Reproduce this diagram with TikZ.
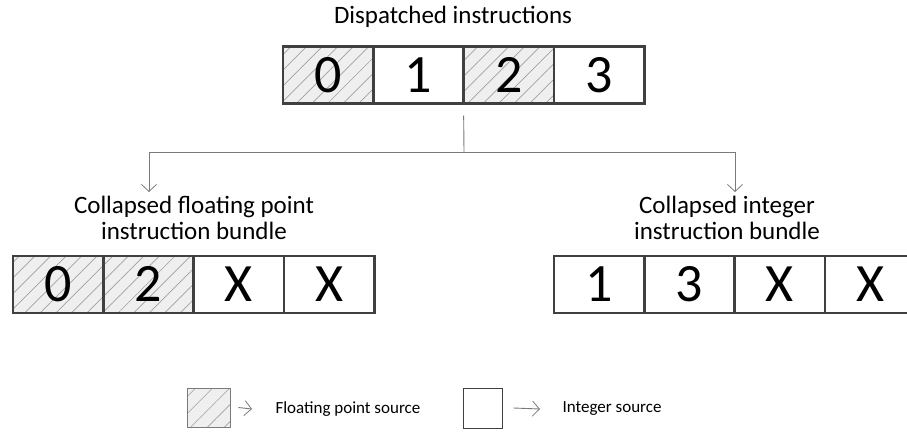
\documentclass[tikz,border=0pt]{standalone}
\usepackage{fontspec}
\setmainfont{Carlito}
\usetikzlibrary{positioning,arrows.meta,patterns.meta}
\definecolor{edgegray}{HTML}{404040}
\definecolor{linkgray}{HTML}{7A7A7A}
\definecolor{hatchbg}{HTML}{EFEFEF}
\definecolor{hatchline}{HTML}{A0A0A0}
\tikzset{
	cell/.style={draw=edgegray,line width=2.6pt,minimum width=90.3pt,minimum height=57pt,
		inner sep=0pt,outer sep=0pt,text height=34pt,text depth=0pt,
		font=\fontsize{54}{54}\selectfont},
	intcell/.style={cell,fill=white},
	fpcell/.style={cell,preaction={fill=hatchbg},
		pattern={Lines[angle=45,distance=11pt,line width=0.7pt]},pattern color=hatchline},
	title/.style={font=\fontsize{25}{26}\selectfont,align=center},
	keytext/.style={font=\fontsize{17}{19}\selectfont,anchor=west},
	link/.style={draw=linkgray,line width=0.9pt},
}
\begin{document}
\begin{tikzpicture}[x=1pt,y=-1pt,>={Straight Barb[length=7pt,width=15pt,line width=0.8pt]}]
	\useasboundingbox (0,0) rectangle (907,431);
	% dispatched bundle
	\node[title] (disp) at (453,17) {Dispatched instructions};
	\node[fpcell] (t0) at (328.2,75) {0};
	\node[intcell,right=0pt of t0] (t1) {1};
	\node[fpcell,right=0pt of t1] (t2) {2};
	\node[intcell,right=0pt of t2] (t3) {3};
	% collapsed bundles
	\node[title] (fplabel) at (194,218) {Collapsed floating point\\instruction bundle};
	\node[title] (intlabel) at (727,218) {Collapsed integer\\instruction bundle};
	\node[fpcell] (f0) at (58.2,284.5) {0};
	\node[fpcell,right=0pt of f0] (f1) {2};
	\node[intcell,right=0pt of f1] (f2) {X};
	\node[intcell,right=0pt of f2] (f3) {X};
	\node[intcell] (i0) at (599.2,284.5) {1};
	\node[intcell,right=0pt of i0] (i1) {3};
	\node[intcell,right=0pt of i1] (i2) {X};
	\node[intcell,right=0pt of i2] (i3) {X};
	% split
	\coordinate (fork) at (464,152);
	\coordinate (fpin) at (149,192);
	\coordinate (intin) at (735,192);
	\draw[link] ([yshift=-12pt]t1.south east) -- (fork);
	\draw[link,->] (fork) -| (fpin);
	\draw[link,->] (fork) -| (intin);
	% legend
	\node[draw=linkgray,line width=0.9pt,minimum width=43pt,minimum height=39pt,preaction={fill=hatchbg},
		pattern={Lines[angle=45,distance=12pt,line width=0.6pt]},pattern color=hatchline] (fpkey) at (208.5,407.5) {};
	\node[keytext] (fptext) at (272,409) {Floating point source};
	\node[draw=edgegray,line width=0.9pt,minimum width=39pt,minimum height=40pt] (intkey) at (482.5,408) {};
	\node[keytext] (inttext) at (559,409) {Integer source};
	\draw[link,->] ([xshift=8pt]fpkey.east) -- ([xshift=-20pt]fptext.west);
	\draw[link,->] ([xshift=11pt]intkey.east) -- ([xshift=-19pt]inttext.west);
\end{tikzpicture}
\end{document}
